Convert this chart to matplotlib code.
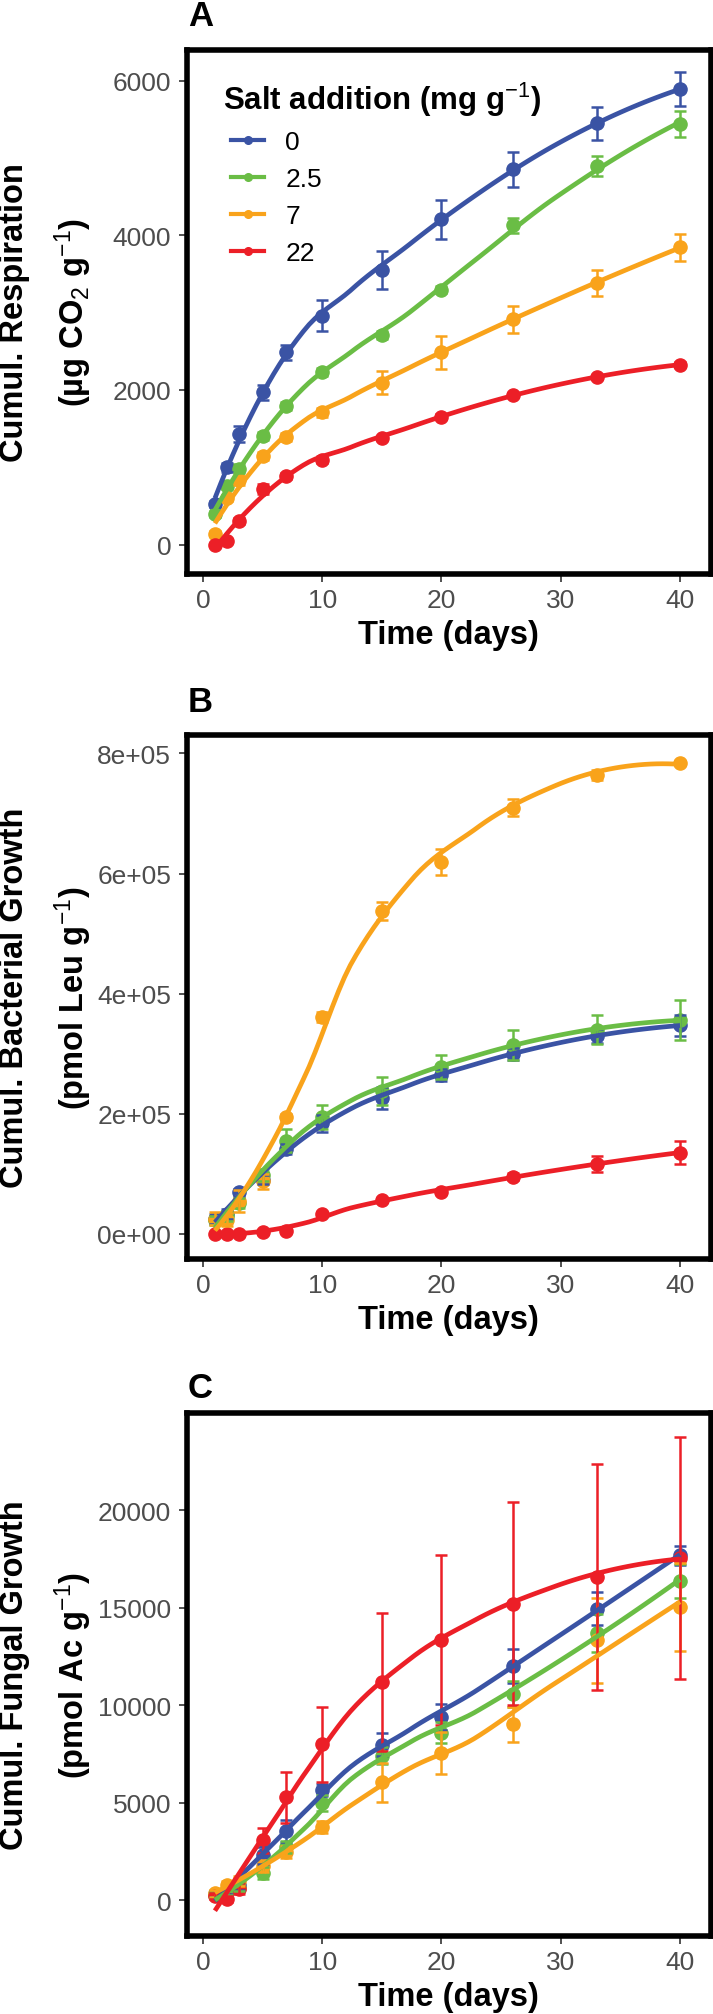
import numpy as np
import matplotlib
matplotlib.use('Agg')
import matplotlib.pyplot as plt
from matplotlib.lines import Line2D

plt.rcParams['font.family'] = ['Liberation Sans', 'DejaVu Sans']
plt.rcParams['mathtext.fontset'] = 'custom'
plt.rcParams['mathtext.rm'] = 'Liberation Sans'
plt.rcParams['mathtext.it'] = 'Liberation Sans:italic'
plt.rcParams['mathtext.bf'] = 'Liberation Sans:bold'

# sampling days
days = np.array([1, 2, 3, 5, 7, 10, 15, 20, 26, 33, 40])

salt_levels = ['0', '2.5', '7', '22']
colors = ['#3A53A4', '#6ABD45', '#F9A31B', '#EC1F27']

# A: cumulative respiration (ug CO2 g-1)
resp_0 = [521, 998, 1430, 1968, 2484, 2961, 3550, 4206, 4851, 5445, 5888]
resp_25 = [393, 763, 981, 1408, 1794, 2232, 2708, 3297, 4127, 4895, 5439]
resp_7 = [140, 600, 830, 1150, 1391, 1710, 2092, 2484, 2916, 3381, 3841]
resp_22 = [0, 45, 308, 718, 886, 1099, 1380, 1654, 1935, 2165, 2327]
resp_err_0 = [40, 60, 100, 100, 100, 196, 247, 252, 224, 213, 216]
resp_err_25 = [40, 50, 60, 50, 50, 50, 50, 50, 100, 135, 165]
resp_err_7 = [30, 40, 60, 50, 50, 60, 150, 210, 174, 163, 180]
resp_err_22 = [20, 20, 40, 60, 40, 40, 30, 30, 30, 30, 30]

# B: cumulative bacterial growth (pmol Leu g-1)
bact_0 = [24e3, 33e3, 69e3, 90e3, 141e3, 184e3, 226e3, 264e3, 300e3, 329e3, 347e3]
bact_25 = [22e3, 29e3, 51e3, 98e3, 155e3, 195e3, 238e3, 278e3, 314e3, 340e3, 356e3]
bact_7 = [25e3, 23e3, 54e3, 87e3, 194e3, 361e3, 537e3, 619e3, 710e3, 764e3, 784e3]
bact_22 = [0, 0, 0, 2e3, 5e3, 33e3, 56e3, 70e3, 95e3, 116e3, 135e3]
bact_err_0 = [8e3, 8e3, 6e3, 8e3, 8e3, 14e3, 18e3, 10e3, 10e3, 12e3, 18e3]
bact_err_25 = [8e3, 8e3, 8e3, 10e3, 19e3, 20e3, 23e3, 20e3, 25e3, 24e3, 33e3]
bact_err_7 = [11e3, 11e3, 18e3, 13e3, 5e3, 9e3, 15e3, 22e3, 14e3, 9e3, 4e3]
bact_err_22 = [1e3, 1e3, 1e3, 2e3, 2e3, 3e3, 3e3, 4e3, 6e3, 14e3, 19e3]

# C: cumulative fungal growth (pmol Ac g-1)
fung_0 = [300, 450, 800, 2300, 3550, 5670, 7970, 9400, 12010, 14950, 17680]
fung_25 = [250, 400, 650, 1410, 2740, 4990, 7420, 8590, 10570, 13710, 16380]
fung_7 = [350, 800, 1000, 1740, 2470, 3770, 6050, 7550, 9030, 13330, 15030]
fung_22 = [200, 80, 600, 3070, 5280, 7990, 11190, 13330, 15210, 16580, 17570]
fung_err_0 = [150, 150, 250, 440, 550, 300, 590, 680, 880, 850, 470]
fung_err_25 = [150, 150, 200, 300, 300, 400, 450, 550, 660, 970, 860]
fung_err_7 = [200, 200, 250, 300, 300, 300, 990, 1100, 900, 2170, 2260]
fung_err_22 = [150, 150, 300, 660, 1300, 1930, 3530, 4360, 5210, 5790, 6200]

x_ticks = [0, 10, 20, 30, 40]
resp_ticks = [0, 2000, 4000, 6000]
bact_ticks = [0, 2e5, 4e5, 6e5, 8e5]
bact_tick_labels = ['0e+00', '2e+05', '4e+05', '6e+05', '8e+05']
fung_ticks = [0, 5000, 10000, 15000, 20000]


def local_fit(x, y, x0, q):
    # weighted local quadratic, returns value and slope at x0
    d = np.abs(x - x0)
    h = np.sort(d)[q - 1] * 1.0001
    w = np.clip(1 - (d / h) ** 3, 0, None) ** 3
    X = np.vstack([np.ones(len(x)), x - x0, (x - x0) ** 2]).T
    XtW = X.T * w
    beta = np.linalg.solve(XtW @ X, XtW @ y)
    return beta[0], beta[1]


def loess(x, y, xs, span=0.75):
    # loess smoother, evaluated at cell vertices and joined by cubic Hermite
    x = np.asarray(x, float)
    y = np.asarray(y, float)
    q = int(np.floor(len(x) * span))
    mu = 0.005 * (x.max() - x.min())
    verts = np.concatenate([[x.min() - mu], (x[:-1] + x[1:]) / 2, [x.max() + mu]])
    fits = np.array([local_fit(x, y, v, q) for v in verts])
    out = []
    for x0 in xs:
        i = min(np.searchsorted(verts, x0) - 1, len(verts) - 2)
        i = max(i, 0)
        v0, v1 = verts[i], verts[i + 1]
        hh = v1 - v0
        t = (x0 - v0) / hh
        f0, d0 = fits[i]
        f1, d1 = fits[i + 1]
        h00 = 2 * t**3 - 3 * t**2 + 1
        h10 = t**3 - 2 * t**2 + t
        h01 = -2 * t**3 + 3 * t**2
        h11 = t**3 - t**2
        out.append(h00 * f0 + h10 * hh * d0 + h01 * f1 + h11 * hh * d1)
    return np.array(out)


fig = plt.figure(figsize=(7.13, 20.15), dpi=100)

panels = [
    dict(rect=[0.2616, 0.7148, 0.7356, 0.2598], tag='A', tag_y=17,
         series=[resp_0, resp_25, resp_7, resp_22],
         errs=[resp_err_0, resp_err_25, resp_err_7, resp_err_22],
         ylim=(-376, 6392), yticks=resp_ticks, ylabels=None,
         lab1='Cumul. Respiration', lab2=r'(µg CO$_2$ g$^{-1}$)'),
    dict(rect=[0.2616, 0.3748, 0.7356, 0.2600], tag='B', tag_y=703,
         series=[bact_0, bact_25, bact_7, bact_22],
         errs=[bact_err_0, bact_err_25, bact_err_7, bact_err_22],
         ylim=(-41900, 831000), yticks=bact_ticks, ylabels=bact_tick_labels,
         lab1='Cumul. Bacterial Growth', lab2=r'(pmol Leu g$^{-1}$)'),
    dict(rect=[0.2616, 0.0385, 0.7356, 0.2598], tag='C', tag_y=1389,
         series=[fung_0, fung_25, fung_7, fung_22],
         errs=[fung_err_0, fung_err_25, fung_err_7, fung_err_22],
         ylim=(-1854, 24989), yticks=fung_ticks, ylabels=None,
         lab1='Cumul. Fungal Growth', lab2=r'(pmol Ac g$^{-1}$)'),
]

xs = np.linspace(1, 40, 80)
for p in panels:
    ax = fig.add_axes(p['rect'])
    for i, (vals, errs) in enumerate(zip(p['series'], p['errs'])):
        c = colors[i]
        ax.plot(days, vals, 'o', ms=9.5, color=c, zorder=3 + i * 0.01)
        ax.errorbar(days, vals, yerr=errs, fmt='none', ecolor=c,
                    elinewidth=1.8, capsize=4.5, capthick=1.8, zorder=4 + i * 0.01)
        ax.plot(xs, loess(days, vals, xs), '-', lw=3.4, color=c,
                solid_capstyle='butt', zorder=5 + i * 0.01)

    ax.set_xlim(-1.38, 42.6)
    ax.set_ylim(*p['ylim'])
    ax.set_xticks(x_ticks)
    ax.set_yticks(p['yticks'])
    if p['ylabels'] is not None:
        ax.set_yticklabels(p['ylabels'])
    ax.tick_params(direction='out', length=6, width=1.2, color='#333333',
                   labelcolor='#4D4D4D', labelsize=19)
    ax.tick_params(axis='x', pad=4)
    ax.tick_params(axis='y', pad=5)
    for s in ax.spines.values():
        s.set_linewidth(4)
        s.set_color('black')
    ax.set_xlabel('Time (days)', fontsize=23.5, fontweight='bold', labelpad=5)

    bb = ax.get_position()
    yc = (bb.y0 + bb.y1) / 2
    fig.text(15 / 713, yc, p['lab1'], rotation=90, ha='center', va='center',
             fontsize=23.5, fontweight='bold')
    fig.text(73 / 713, yc, p['lab2'], rotation=90, ha='center', va='center',
             fontsize=23.5, fontweight='bold')
    fig.text(188 / 713, 1 - p['tag_y'] / 2015, p['tag'], ha='left', va='center',
             fontsize=25, fontweight='bold')

    if p['tag'] == 'A':
        ax.text(0.0696, 0.907, r'Salt addition (mg g$^{-1}$)', transform=ax.transAxes,
                ha='left', va='center', fontsize=22.5, fontweight='bold')
        handles = [Line2D([], [], color=c, lw=3, marker='o', ms=5.5) for c in colors]
        ax.legend(handles, salt_levels, loc='upper left',
                  bbox_to_anchor=(0.085, 0.848), frameon=False, fontsize=19,
                  handlelength=1.25, handletextpad=0.8, labelspacing=0.5,
                  borderpad=0, borderaxespad=0)

fig.savefig('out.png', dpi=100)
